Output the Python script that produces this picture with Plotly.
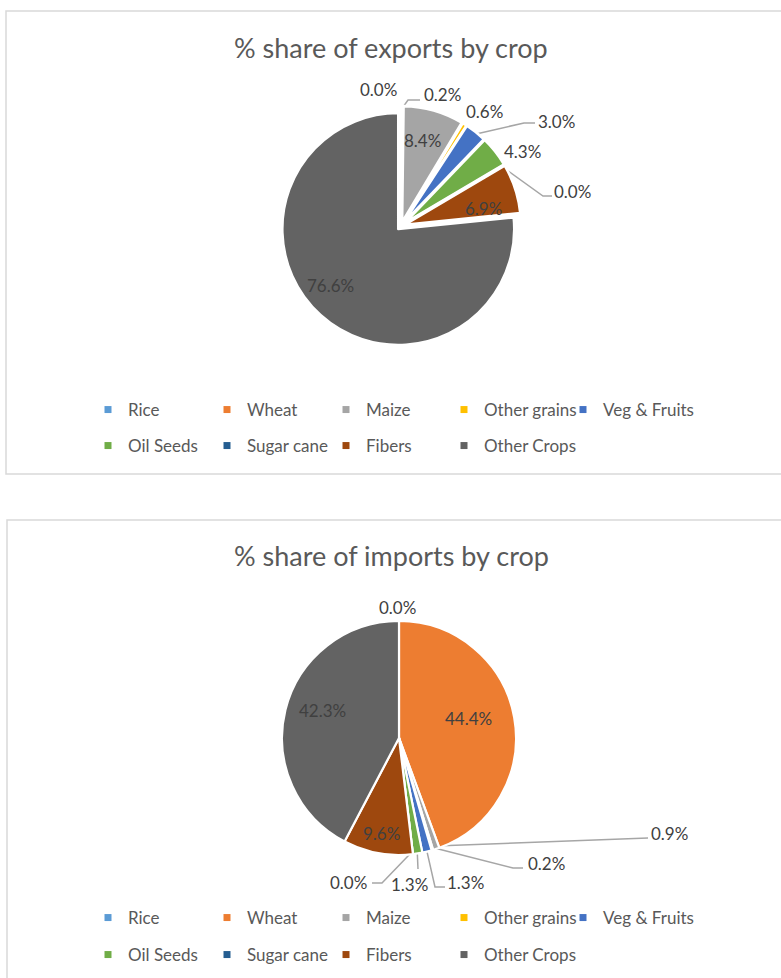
import math
import plotly.graph_objects as go

# ---------------- data ----------------
CATEGORIES = ["Rice", "Wheat", "Maize", "Other grains", "Veg & Fruits",
              "Oil Seeds", "Sugar cane", "Fibers", "Other Crops"]
EXPORT_SHARE = [0.0, 0.2, 8.4, 0.6, 3.0, 4.3, 0.0, 6.9, 76.6]
IMPORT_SHARE = [0.0, 44.4, 0.9, 0.2, 1.3, 1.3, 0.0, 9.6, 42.3]
TITLES = ["% share of exports by crop", "% share of imports by crop"]

# ---------------- style ----------------
COLORS = ["#5B9BD5", "#ED7D31", "#A5A5A5", "#FFC000", "#4472C4",
          "#70AD47", "#255E91", "#9E480E", "#636363"]
W, H = 781, 978
FONT = "Lato"
LABEL_COLOR = "#404040"
TEXT_COLOR = "#595959"
LINE_COLOR = "#A6A6A6"
BORDER_COLOR = "#D9D9D9"

# label placement per slice: (text x, text y, elbow or None, line end or None)
EXPORT_LABELS = [
    (378, 89, None, None),
    (442, 94, (408, 100), (420, 100)),
    (422, 140, None, None),
    (484, 111, None, None),
    (556, 121, (524, 123), (535, 123)),
    (522, 151, None, None),
    (572, 191, (543, 196), (552, 196)),
    (483, 208, None, None),
    (330, 285, None, None),
]
IMPORT_LABELS = [
    (397, 607, None, None),
    (468, 718, None, None),
    (669, 833, (640, 838), (648, 838)),
    (546, 863, (513, 868), (523, 868)),
    (465, 882, (435, 887), (445, 887)),
    (409, 884, (418, 869), (418, 869)),
    (348, 882, (382, 883), (372, 883)),
    (381, 833, None, None),
    (322, 710, None, None),
]

CHARTS = [
    dict(values=EXPORT_SHARE, title=TITLES[0], cx=401, cy=226, r=116, pull=0.035,
         border=2.6, title_y=47, box=(6, 11, 782, 474), rows=(410, 446),
         labels=EXPORT_LABELS),
    dict(values=IMPORT_SHARE, title=TITLES[1], cx=399, cy=738, r=117, pull=0.0,
         border=2.2, title_y=555, box=(7, 520, 782, 990), rows=(918, 955),
         labels=IMPORT_LABELS),
]
LEGEND_COLS = [125, 244, 363, 481, 600]   # text start x per column
LEGEND_PER_ROW = 5

fig = go.Figure()
annotations = []
shapes = []
legend_layouts = {}
legend_count = 0

for ci, ch in enumerate(CHARTS):
    vals = ch["values"]
    cx, cy, r, pull = ch["cx"], ch["cy"], ch["r"], ch["pull"]
    half = r * (1 + pull)
    fig.add_trace(go.Pie(
        labels=CATEGORIES, values=vals, sort=False, direction="clockwise",
        rotation=0, pull=[pull] * len(vals), textinfo="none", showlegend=False,
        marker=dict(colors=COLORS, line=dict(color="white", width=ch["border"])),
        domain=dict(x=[(cx - half) / W, (cx + half) / W],
                    y=[1 - (cy + half) / H, 1 - (cy - half) / H]),
        hoverinfo="label+percent",
    ))

    total = sum(vals)
    cum = 0.0
    for i, v in enumerate(vals):
        theta = 2 * math.pi * (cum + v / 2) / total
        cum += v
        tx, ty, elbow, end = ch["labels"][i]
        annotations.append(dict(
            x=tx, y=ty, xref="x", yref="y", text=f"{v:.1f}%", showarrow=False,
            font=dict(family=FONT, size=17, color=LABEL_COLOR),
            xanchor="center", yanchor="middle"))
        if elbow is not None:
            rr = pull * r + r - 3
            sx = cx + math.sin(theta) * rr
            sy = cy - math.cos(theta) * rr
            fig.add_trace(go.Scatter(
                x=[sx, elbow[0], end[0]], y=[sy, elbow[1], end[1]],
                mode="lines", line=dict(color=LINE_COLOR, width=1.5),
                hoverinfo="skip", showlegend=False))

    # title
    annotations.append(dict(
        x=(ch["box"][0] + ch["box"][2]) / 2 - 3, y=ch["title_y"], xref="x", yref="y",
        text=ch["title"], showarrow=False,
        font=dict(family=FONT, size=27, color=TEXT_COLOR),
        xanchor="center", yanchor="middle"))
    # chart border
    x0, y0, x1, y1 = ch["box"]
    shapes.append(dict(type="rect", xref="x", yref="y", x0=x0, y0=y0, x1=x1, y1=y1,
                       line=dict(color=BORDER_COLOR, width=1.5), layer="below"))

    # legend: one small legend per entry so that columns match
    for k, name in enumerate(CATEGORIES):
        legend_count += 1
        key = "legend" if legend_count == 1 else f"legend{legend_count}"
        row, col = divmod(k, LEGEND_PER_ROW)
        fig.add_trace(go.Scatter(
            x=[None], y=[None], mode="markers", name=name,
            marker=dict(symbol="square", size=7, color=COLORS[k]),
            legend=key, showlegend=True, hoverinfo="skip"))
        legend_layouts[key] = dict(
            x=(LEGEND_COLS[col] - 37) / W, y=1 - ch["rows"][row] / H,
            xanchor="left", yanchor="middle", bgcolor="rgba(0,0,0,0)",
            borderwidth=0, itemsizing="trace",
            font=dict(family=FONT, size=17, color=TEXT_COLOR))

fig.update_layout(
    width=W, height=H, margin=dict(l=0, r=0, t=0, b=0),
    paper_bgcolor="white", plot_bgcolor="white",
    xaxis=dict(range=[0, W], visible=False, fixedrange=True, domain=[0, 1]),
    yaxis=dict(range=[H, 0], visible=False, fixedrange=True, domain=[0, 1]),
    annotations=annotations, shapes=shapes,
    **legend_layouts,
)

fig.write_html("out.html")
